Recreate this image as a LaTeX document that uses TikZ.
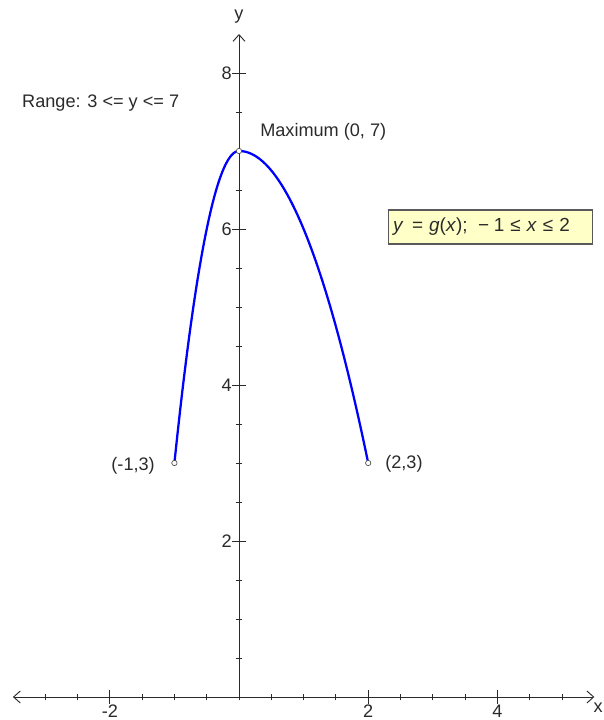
\documentclass[tikz,border=0pt]{standalone}
\usepackage{fontspec}
\setmainfont{Liberation Sans}
\usepackage{tikz}
\usetikzlibrary{arrows.meta}
\tikzset{every picture/.append style={font=\fontsize{13.6}{16}\selectfont}}
\definecolor{figblue}{HTML}{0000FF}
\definecolor{figbox}{HTML}{FFFFC8}
\definecolor{figtext}{HTML}{2A2A2A}

\begin{document}
\begin{tikzpicture}[x=48.45pt,y=58.5pt,
    axis/.style={figtext,line width=0.7pt},
    enddot/.style={circle,draw=black!70,fill=white,line width=0.5pt,inner sep=0pt,minimum size=4pt},
    lab/.style={text=figtext,inner sep=0pt}]
    \useasboundingbox (-3.70,-0.295) rectangle (5.635,8.936);
    % axes
    \draw[axis,{Straight Barb[length=5pt,width=9pt]}-{Straight Barb[length=5pt,width=9pt]}] (-3.5,0) -- (5.5,0);
    \draw[axis,-{Straight Barb[length=5pt,width=9pt]}] (0,0) -- (0,8.5);
    \foreach \x in {-3,-2.5,...,5} {\draw[axis] (\x,0) ++(0,-2.6pt) -- ++(0,5.2pt);}
    \foreach \y in {0.5,1,...,8} {\draw[axis] (0,\y) ++(-2.6pt,0) -- ++(5.2pt,0);}
    \foreach \x/\lab in {-2/{-2},2/{2},4/{4}} {
      \draw[axis] (\x,0) ++(0,-5pt) -- ++(0,10pt);
      \node[lab,anchor=north] (xt\x) at (\x,-0.1) {\lab};
    }
    \foreach \y in {2,4,6,8} {
      \draw[axis] (0,\y) ++(-5pt,0) -- ++(10pt,0);
      \node[lab,anchor=east] (yt\y) at (-0.11,\y) {\y};
    }
    \node[lab] (ylab) at (0,8.72) {y};
    \node[lab,anchor=north east] (xlab) at (5.635,-0.07) {x};
    % graph of g
    \draw[figblue,line width=1.7pt] plot[domain=-1:0,samples=40] (\x,{7-4*\x*\x})
      -- plot[domain=0:2,samples=60] (\x,{7-\x*\x});
    \node[enddot] (pa) at (-1,3) {};
    \node[enddot] (pb) at (2,3) {};
    \node[enddot] (pm) at (0,7) {};
    % labels
    \node[lab,anchor=west] (range) at (-3.36,7.615) {Range: 3 <= y <= 7};
    \node[lab,anchor=west] (maxlab) at (0.325,7.24) {Maximum (0, 7)};
    \node[lab,anchor=east] (palab) at (-1.30,2.97) {(-1,3)};
    \node[lab,anchor=west] (pblab) at (2.26,2.99) {(2,3)};
    \node[draw=black!65,fill=figbox,line width=0.8pt,text=figtext,text width=146pt,align=left,inner xsep=3.5pt,inner ysep=0pt,minimum height=25.5pt] (rule) at (3.893,6.026)
      {\fontsize{14.2}{16}\selectfont\textit{y}\hspace{0.45em}= \textit{g}(\textit{x});\hspace{0.55em}−\hspace{0.25em}1 ≤ \textit{x} ≤ 2};
  \end{tikzpicture}
\end{document}
